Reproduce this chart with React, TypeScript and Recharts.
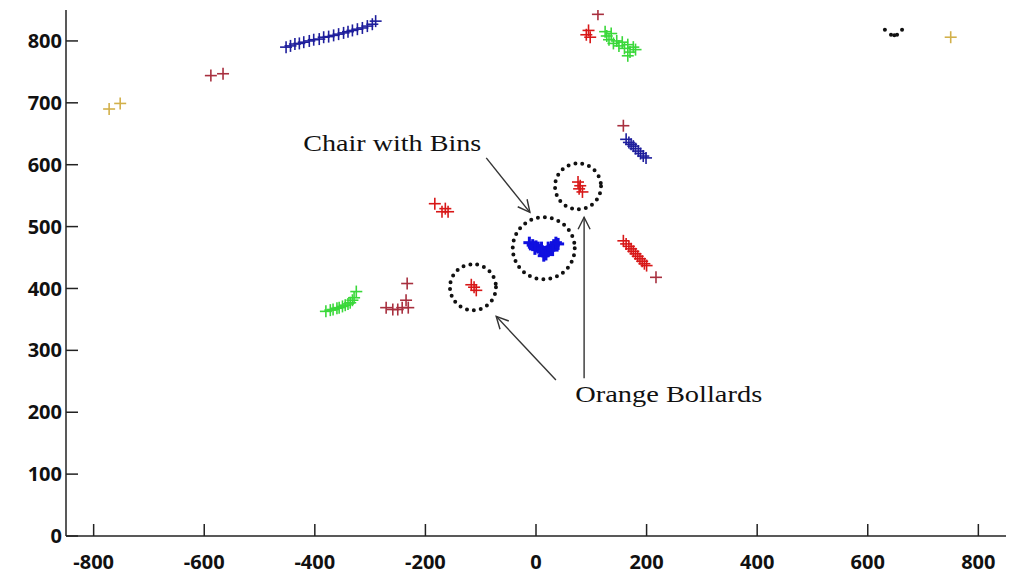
import { ScatterChart, Scatter, XAxis, YAxis, ReferenceDot, ReferenceLine } from 'recharts';

// axis ticks
const xTicks = [-800, -600, -400, -200, 0, 200, 400, 600, 800];
const yTicks = [0, 100, 200, 300, 400, 500, 600, 700, 800];

// navy: long wall top-left + short segment on the right
const navyPts = [
  [-452, 790], [-444, 792], [-436, 795], [-428, 796], [-420, 798], [-410, 800], [-402, 802],
  [-392, 803], [-384, 806], [-375, 807], [-366, 809], [-357, 811], [-348, 813], [-340, 815],
  [-332, 817], [-323, 819], [-314, 821], [-305, 824], [-296, 827], [-290, 832],
  [163, 641], [168, 636], [172, 633], [176, 630], [180, 626], [185, 622], [189, 618], [194, 614], [199, 611],
];
// bright blue: chair with bins
const chairPts = [
  [-12, 474], [-6, 470], [0, 468], [4, 466], [8, 462], [12, 460], [16, 458], [20, 460], [24, 462],
  [28, 466], [32, 470], [36, 474], [40, 472], [14, 453], [18, 455], [10, 466], [22, 466], [-2, 464], [30, 462],
];
const greenPts = [
  [125, 815], [128, 808], [132, 802], [136, 812], [140, 796], [146, 800], [150, 792], [156, 798],
  [160, 788], [166, 794], [170, 782], [176, 790], [180, 786], [166, 776],
  [-380, 363], [-372, 365], [-367, 366], [-360, 368], [-356, 369], [-350, 371], [-345, 373],
  [-340, 375], [-336, 377], [-332, 381], [-329, 385], [-325, 395],
];
const redPts = [
  [91, 810], [95, 817], [98, 806],
  [76, 572], [80, 566], [78, 561], [84, 556],
  [-117, 406], [-112, 402], [-108, 397],
  [-183, 537], [-170, 524], [-164, 529], [-159, 524],
  [158, 477], [163, 472], [168, 468], [172, 464], [176, 460], [180, 456], [184, 452],
  [188, 448], [192, 444], [196, 440], [200, 437],
];
const maroonPts = [
  [-588, 744], [-566, 747], [112, 843], [158, 663], [217, 418],
  [-271, 369], [-259, 366], [-250, 366], [-242, 369], [-231, 369], [-235, 381], [-233, 408],
];
const goldPts = [[-772, 690], [-752, 699], [750, 806]];
const blackPts = [[631, 818], [642, 810], [648, 809], [653, 810], [662, 818]];

// annotations
const circles = [
  { x: 14, y: 465, r: 31 },
  { x: 76, y: 565, r: 23 },
  { x: -114, y: 402, r: 23 },
];
const arrows = [
  [-90, 611, -11, 523],
  [36, 252, -72, 355],
  [87, 255, 87, 515],
];
const notes = [
  { x: -260, y: 635, text: 'Chair with Bins', w: 178 },
  { x: 240, y: 229, text: 'Orange Bollards', w: 187 },
];

const toObj = (pts: number[][]) => pts.map(([x, y]) => ({ x, y }));

const plus = (color: string, arm = 6, sw = 1.6) => (p: any) => (
  <g stroke={color} strokeWidth={sw}>
    <line x1={p.cx - arm} y1={p.cy} x2={p.cx + arm} y2={p.cy} />
    <line x1={p.cx} y1={p.cy - arm} x2={p.cx} y2={p.cy + arm} />
  </g>
);

const dot = (p: any) => <circle cx={p.cx} cy={p.cy} r={2} fill="#111" />;

const tickFont = { fontFamily: '"Open Sans", sans-serif', fontWeight: 700, fontSize: 20, fill: '#111' };
const axisStroke = { stroke: '#222', strokeWidth: 1.5 };

export default function App() {
  return (
    <div style={{ position: 'absolute', left: 0, top: 0, background: '#fff' }}>
      <ScatterChart width={1015} height={579} margin={{ top: 10, right: 9, bottom: 10, left: 10 }}>
        <defs>
          <marker id="head" markerWidth="16" markerHeight="16" refX="13" refY="7" orient="auto" markerUnits="userSpaceOnUse">
            <path d="M1,1 L13,7 L1,13" fill="none" stroke="#333" strokeWidth="1.4" />
          </marker>
        </defs>
        <XAxis type="number" dataKey="x" domain={[-850, 850]} ticks={xTicks} allowDataOverflow
          height={33} tickSize={-12} tickMargin={31} tick={tickFont} axisLine={axisStroke} tickLine={axisStroke} />
        <XAxis xAxisId="top" orientation="top" type="number" dataKey="x" domain={[-850, 850]} ticks={xTicks}
          allowDataOverflow height={0} tickSize={-12} tick={false} axisLine={axisStroke} tickLine={axisStroke} />
        <YAxis type="number" dataKey="y" domain={[0, 850]} ticks={yTicks} allowDataOverflow
          width={56} tickSize={-12} tickMargin={16} tick={tickFont} axisLine={axisStroke} tickLine={axisStroke} />
        <YAxis yAxisId="right" orientation="right" type="number" dataKey="y" domain={[0, 850]} ticks={yTicks}
          allowDataOverflow width={0} tickSize={-12} tick={false} axisLine={axisStroke} tickLine={axisStroke} />

        <Scatter data={toObj(goldPts)} shape={plus('#d2b04a')} isAnimationActive={false} />
        <Scatter data={toObj(maroonPts)} shape={plus('#a8303f')} isAnimationActive={false} />
        <Scatter data={toObj(redPts)} shape={plus('#d81818')} isAnimationActive={false} />
        <Scatter data={toObj(greenPts)} shape={plus('#3ad83a')} isAnimationActive={false} />
        <Scatter data={toObj(navyPts)} shape={plus('#1e1e9c')} isAnimationActive={false} />
        <Scatter data={toObj(chairPts)} shape={plus('#1010e0', 6, 3)} isAnimationActive={false} />
        <Scatter data={toObj(blackPts)} shape={dot} isAnimationActive={false} />

        {circles.map((c, i) => (
          <ReferenceDot key={'c' + i} x={c.x} y={c.y} r={c.r} fill="none" stroke="#111" strokeWidth={4}
            strokeDasharray="0 7" strokeLinecap="round" />
        ))}
        {arrows.map((a, i) => (
          <ReferenceLine key={'a' + i} segment={[{ x: a[0], y: a[1] }, { x: a[2], y: a[3] }]}
            shape={(p: any) => (
              <line x1={p.x1} y1={p.y1} x2={p.x2} y2={p.y2} stroke="#333" strokeWidth={1.4} markerEnd="url(#head)" />
            )} />
        ))}
        {notes.map((n, i) => (
          <ReferenceDot key={'n' + i} x={n.x} y={n.y} r={0}
            shape={(p: any) => (
              <text x={p.cx} y={p.cy} textAnchor="middle" dominantBaseline="central" textLength={n.w}
                lengthAdjust="spacingAndGlyphs" fontFamily='"Liberation Serif", serif' fontSize={24} fill="#111">
                {n.text}
              </text>
            )} />
        ))}
      </ScatterChart>
    </div>
  );
}
